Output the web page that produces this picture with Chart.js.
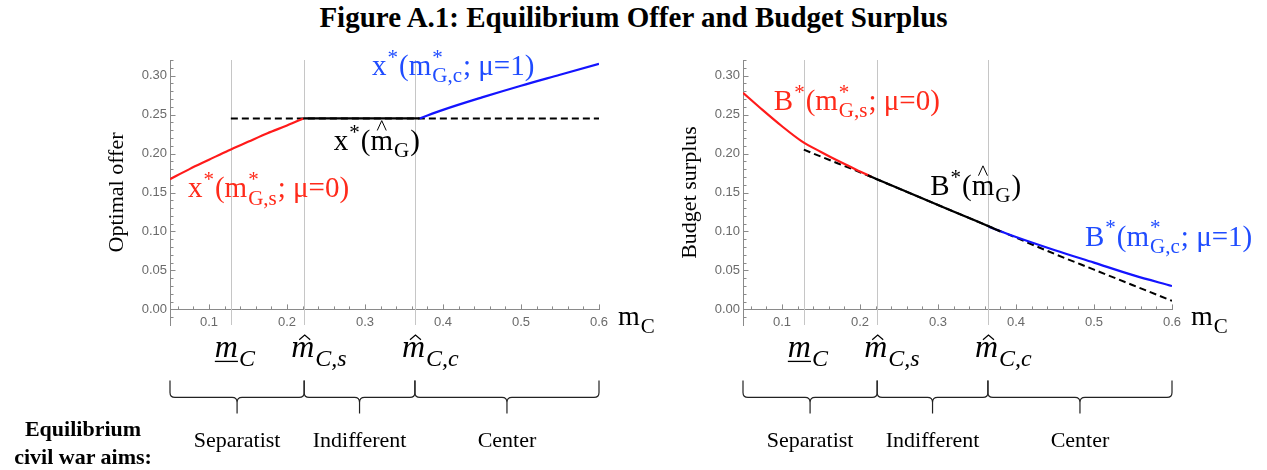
<!DOCTYPE html>
<html>
<head>
<meta charset="utf-8">
<title>Figure A.1</title>
<script src="https://cdn.jsdelivr.net/npm/chart.js@4.4.1/dist/chart.umd.min.js"></script>
<style>
  body { margin: 0; background: #fff; }
  #page { position: relative; width: 1267px; height: 470px; overflow: hidden; font-family: "Liberation Serif", serif; }
  #title { position: absolute; top: 1px; left: 0; width: 1267px; text-align: center; font-weight: bold; font-size: 29px; }
  .box { position: absolute; top: 0; height: 470px; }
  #aims { position: absolute; left: 0; top: 415px; width: 166px; text-align: center; font-weight: bold; font-size: 22px; line-height: 28px; }
</style>
</head>
<body>
<div id="page">
  <div id="title">Figure A.1: Equilibrium Offer and Budget Surplus</div>
  <div class="box" style="left:0;width:680px"><canvas id="offerChart"></canvas></div>
  <div class="box" style="left:573px;width:694px"><canvas id="surplusChart"></canvas></div>
  <div id="aims">Equilibrium<br>civil war aims:</div>
</div>
<script>
// axes
const xTicks = [0.1, 0.2, 0.3, 0.4, 0.5, 0.6];
const yTicks = [0, 0.05, 0.1, 0.15, 0.2, 0.25, 0.3];
const cutoffs = [0.128, 0.222, 0.364];   // m_C, m^_C,s, m^_C,c
const regions = ['Separatist', 'Indifferent', 'Center'];

// left panel: optimal offer
const mSep = [0.05, 0.075, 0.1, 0.125, 0.15, 0.175, 0.2, 0.221];
const offerSep = [0.167, 0.180, 0.192, 0.204, 0.215, 0.226, 0.236, 0.245];
const mInd = [0.221, 0.37];
const offerInd = [0.245, 0.245];
const mCen = [0.37, 0.4, 0.45, 0.5, 0.55, 0.6];
const offerCen = [0.245, 0.256, 0.272, 0.287, 0.301, 0.315];
const mHat = [0.128, 0.6];
const offerHat = [0.245, 0.245];

// right panel: budget surplus
const mSepB = [0.05, 0.075, 0.1, 0.125, 0.15, 0.175, 0.2, 0.215];
const surplusSep = [0.278, 0.256, 0.235, 0.216, 0.202, 0.189, 0.177, 0.170];
const mIndB = [0.21, 0.25, 0.3, 0.35, 0.38];
const surplusInd = [0.172, 0.155, 0.134, 0.113, 0.100];
const mCenB = [0.365, 0.4, 0.45, 0.5, 0.55, 0.6];
const surplusCen = [0.106, 0.093, 0.076, 0.060, 0.044, 0.030];
const mHatB = [0.128, 0.15, 0.2, 0.25, 0.3, 0.35, 0.4, 0.45, 0.5, 0.55, 0.6];
const surplusHat = [0.205, 0.196, 0.176, 0.155, 0.134, 0.113, 0.092, 0.071, 0.051, 0.031, 0.011];

const RED = '#ff1a1a', BLUE = '#1414ff', RED_TXT = '#ff2a1a', BLUE_TXT = '#1f4cff';
const SERIF = '"Liberation Serif", serif';

const pts = (xs, ys) => xs.map((v, i) => ({ x: v, y: ys[i] }));

function seg(ctx, x1, y1, x2, y2) {
  ctx.beginPath(); ctx.moveTo(x1, y1); ctx.lineTo(x2, y2); ctx.stroke();
}

// text with super/subscripts and hats
function rich(ctx, x, y, parts, size, color) {
  ctx.fillStyle = color; ctx.strokeStyle = color;
  ctx.textAlign = 'left'; ctx.textBaseline = 'alphabetic';
  const small = Math.round(size * 0.74);
  for (const p of parts) {
    const it = p.it ? 'italic ' : '';
    if (p.t) {
      ctx.font = it + size + 'px ' + SERIF;
      const w = ctx.measureText(p.t).width;
      ctx.fillText(p.t, x, y);
      if (p.hat === 'wide') {
        ctx.lineWidth = 1; const c = x + w / 2;
        ctx.beginPath(); ctx.moveTo(c - 4.5, y - size * 0.66); ctx.lineTo(c, y - size * 1.0); ctx.lineTo(c + 4.5, y - size * 0.66); ctx.stroke();
      } else if (p.hat === 'tex') {
        ctx.lineWidth = 1.2; const c = x + w / 2 + 2;
        ctx.beginPath(); ctx.moveTo(c - 5.5, y - size * 0.55); ctx.lineTo(c, y - size * 0.7); ctx.lineTo(c + 5.5, y - size * 0.55); ctx.stroke();
      }
      if (p.under) { ctx.lineWidth = 1.3; seg(ctx, x, y + 4, x + w, y + 4); }
      x += w;
    } else {
      ctx.font = it + small + 'px ' + SERIF;
      let w = 0;
      if (p.sup) { ctx.fillText(p.sup, x + 1, y - size * 0.38); w = ctx.measureText(p.sup).width + 1; }
      if (p.sub) { ctx.fillText(p.sub, x + 1, y + size * 0.26); w = Math.max(w, ctx.measureText(p.sub).width + 1); }
      x += w + 1;
    }
  }
}

const sepLabel = s => [{ t: s }, { sup: '*' }, { t: '(m' }, { sup: '*', sub: 'G,s' }, { t: '; μ=0)' }];
const cenLabel = s => [{ t: s }, { sup: '*' }, { t: '(m' }, { sup: '*', sub: 'G,c' }, { t: '; μ=1)' }];
const hatLabel = s => [{ t: s }, { sup: '*' }, { t: '(' }, { t: 'm', hat: 'wide' }, { sub: 'G' }, { t: ')' }];

function brace(ctx, a, b, top, mid, tip) {
  const m = (a + b) / 2, r = 5;
  ctx.beginPath();
  ctx.moveTo(a, top); ctx.lineTo(a, mid - r); ctx.quadraticCurveTo(a, mid, a + r, mid);
  ctx.lineTo(m - r, mid); ctx.quadraticCurveTo(m, mid, m, mid + r); ctx.lineTo(m, tip);
  ctx.moveTo(m, mid + r); ctx.quadraticCurveTo(m, mid, m + r, mid);
  ctx.lineTo(b - r, mid); ctx.quadraticCurveTo(b, mid, b, mid - r); ctx.lineTo(b, top);
  ctx.stroke();
}

const figPlugin = {
  id: 'fig',
  beforeDatasetsDraw(chart) {
    const { ctx, chartArea: a, scales: { x, y } } = chart;
    const y0 = y.getPixelForValue(0);
    const xl = Math.round(x.getPixelForValue(x.min)) + 0.5;
    ctx.save();
    ctx.lineWidth = 1;
    ctx.strokeStyle = '#c6c6c6';
    cutoffs.forEach(v => { const px = Math.round(x.getPixelForValue(v)) + 0.5; seg(ctx, px, a.top, px, a.bottom); });
    ctx.strokeStyle = '#8a8a8a';
    for (let k = 3; k <= 30; k++) {
      const px = Math.round(x.getPixelForValue(k * 0.02)) + 0.5;
      seg(ctx, px, y0, px, y0 - (k % 5 === 0 ? 5 : 3));
    }
    for (let k = -1; k <= 32; k++) {
      const py = Math.round(y.getPixelForValue(k * 0.01)) + 0.5;
      seg(ctx, xl, py, xl + (k % 5 === 0 ? 5 : 3), py);
    }
    ctx.restore();
  },
  afterDraw(chart, args, o) {
    const { ctx, scales: { x, y } } = chart;
    const y0 = y.getPixelForValue(0);
    ctx.save();
    // curve annotations
    o.notes.forEach(n => rich(ctx, x.getPixelForValue(n.x), y.getPixelForValue(n.y), n.parts, 29, n.color));
    // axis name
    rich(ctx, x.getPixelForValue(x.max) + 19, y0 + 16, [{ t: 'm' }, { sub: 'C' }], 28, '#000');
    // threshold labels
    const cut = cutoffs.map(v => x.getPixelForValue(v));
    const base = y0 + 48;
    rich(ctx, cut[0] - 16, base, [{ t: 'm', it: true, under: true }, { sub: 'C', it: true }], 32, '#000');
    rich(ctx, cut[1] - 13, base, [{ t: 'm', it: true, hat: 'tex' }, { sub: 'C,s', it: true }], 32, '#000');
    rich(ctx, cut[2] - 13, base, [{ t: 'm', it: true, hat: 'tex' }, { sub: 'C,c', it: true }], 32, '#000');
    // braces and regime names: axis start, m^_C,s, m^_C,c, axis end
    const ends = [x.getPixelForValue(x.min), cut[1], cut[2], x.getPixelForValue(x.max)];
    ctx.strokeStyle = '#222'; ctx.lineWidth = 1.2;
    ctx.fillStyle = '#000'; ctx.font = '22px ' + SERIF; ctx.textAlign = 'center';
    regions.forEach((r, i) => {
      brace(ctx, ends[i], ends[i + 1], y0 + 71, y0 + 88, y0 + 104);
      ctx.fillText(r, (ends[i] + ends[i + 1]) / 2, y0 + 138);
    });
    ctx.restore();
  }
};

function makeChart(id, datasets, yTitle, notes, padRight) {
  return new Chart(document.getElementById(id), {
    type: 'scatter',
    data: { datasets },
    options: {
      responsive: true,
      maintainAspectRatio: false,
      animation: false,
      layout: { padding: { left: 104, right: padRight, top: 60, bottom: 145 } },
      plugins: { legend: { display: false }, tooltip: { enabled: false }, fig: { notes } },
      elements: { point: { radius: 0 }, line: { cubicInterpolationMode: 'monotone' } },
      scales: {
        x: {
          type: 'linear', min: 0.05, max: 0.6, position: { y: 0 },
          afterBuildTicks: s => { s.ticks = xTicks.map(v => ({ value: v })); },
          grid: { drawOnChartArea: false, drawTicks: false },
          border: { color: '#8a8a8a' },
          ticks: { padding: 5, color: '#6a6a6a', font: { family: '"Liberation Sans"', size: 13 }, callback: v => v.toFixed(1) }
        },
        y: {
          type: 'linear', min: -0.02, max: 0.32,
          afterBuildTicks: s => { s.ticks = yTicks.map(v => ({ value: v })); },
          afterFit: s => { s.width = 66; },
          grid: { drawOnChartArea: false, drawTicks: false },
          border: { color: '#8a8a8a' },
          ticks: { padding: 3, color: '#6a6a6a', font: { family: '"Liberation Sans"', size: 13 }, callback: v => v.toFixed(2) },
          title: { display: true, text: yTitle, color: '#000', font: { family: SERIF, size: 22 }, padding: { top: 0, bottom: 0 } }
        }
      }
    },
    plugins: [figPlugin]
  });
}

const solid = (data, color) => ({ data, showLine: true, borderColor: color, borderWidth: 2.2, fill: false });

makeChart('offerChart', [
  solid(pts(mInd, offerInd), '#000'),
  solid(pts(mSep, offerSep), RED),
  solid(pts(mCen, offerCen), BLUE),
  { ...solid(pts(mHat, offerHat), '#000'), borderWidth: 2, borderDash: [7, 4] }
], 'Optimal offer', [
  { x: 0.309, y: 0.301, parts: cenLabel('x'), color: BLUE_TXT },
  { x: 0.260, y: 0.205, parts: hatLabel('x'), color: '#000' },
  { x: 0.073, y: 0.144, parts: sepLabel('x'), color: RED_TXT }
], 81);

makeChart('surplusChart', [
  solid(pts(mIndB, surplusInd), '#000'),
  solid(pts(mSepB, surplusSep), RED),
  solid(pts(mCenB, surplusCen), BLUE),
  { ...solid(pts(mHatB, surplusHat), '#000'), borderWidth: 2, borderDash: [7, 4] }
], 'Budget surplus', [
  { x: 0.0895, y: 0.256, parts: sepLabel('B'), color: RED_TXT },
  { x: 0.290, y: 0.147, parts: hatLabel('B'), color: '#000' },
  { x: 0.4885, y: 0.082, parts: cenLabel('B'), color: BLUE_TXT }
], 95);
</script>
</body>
</html>
